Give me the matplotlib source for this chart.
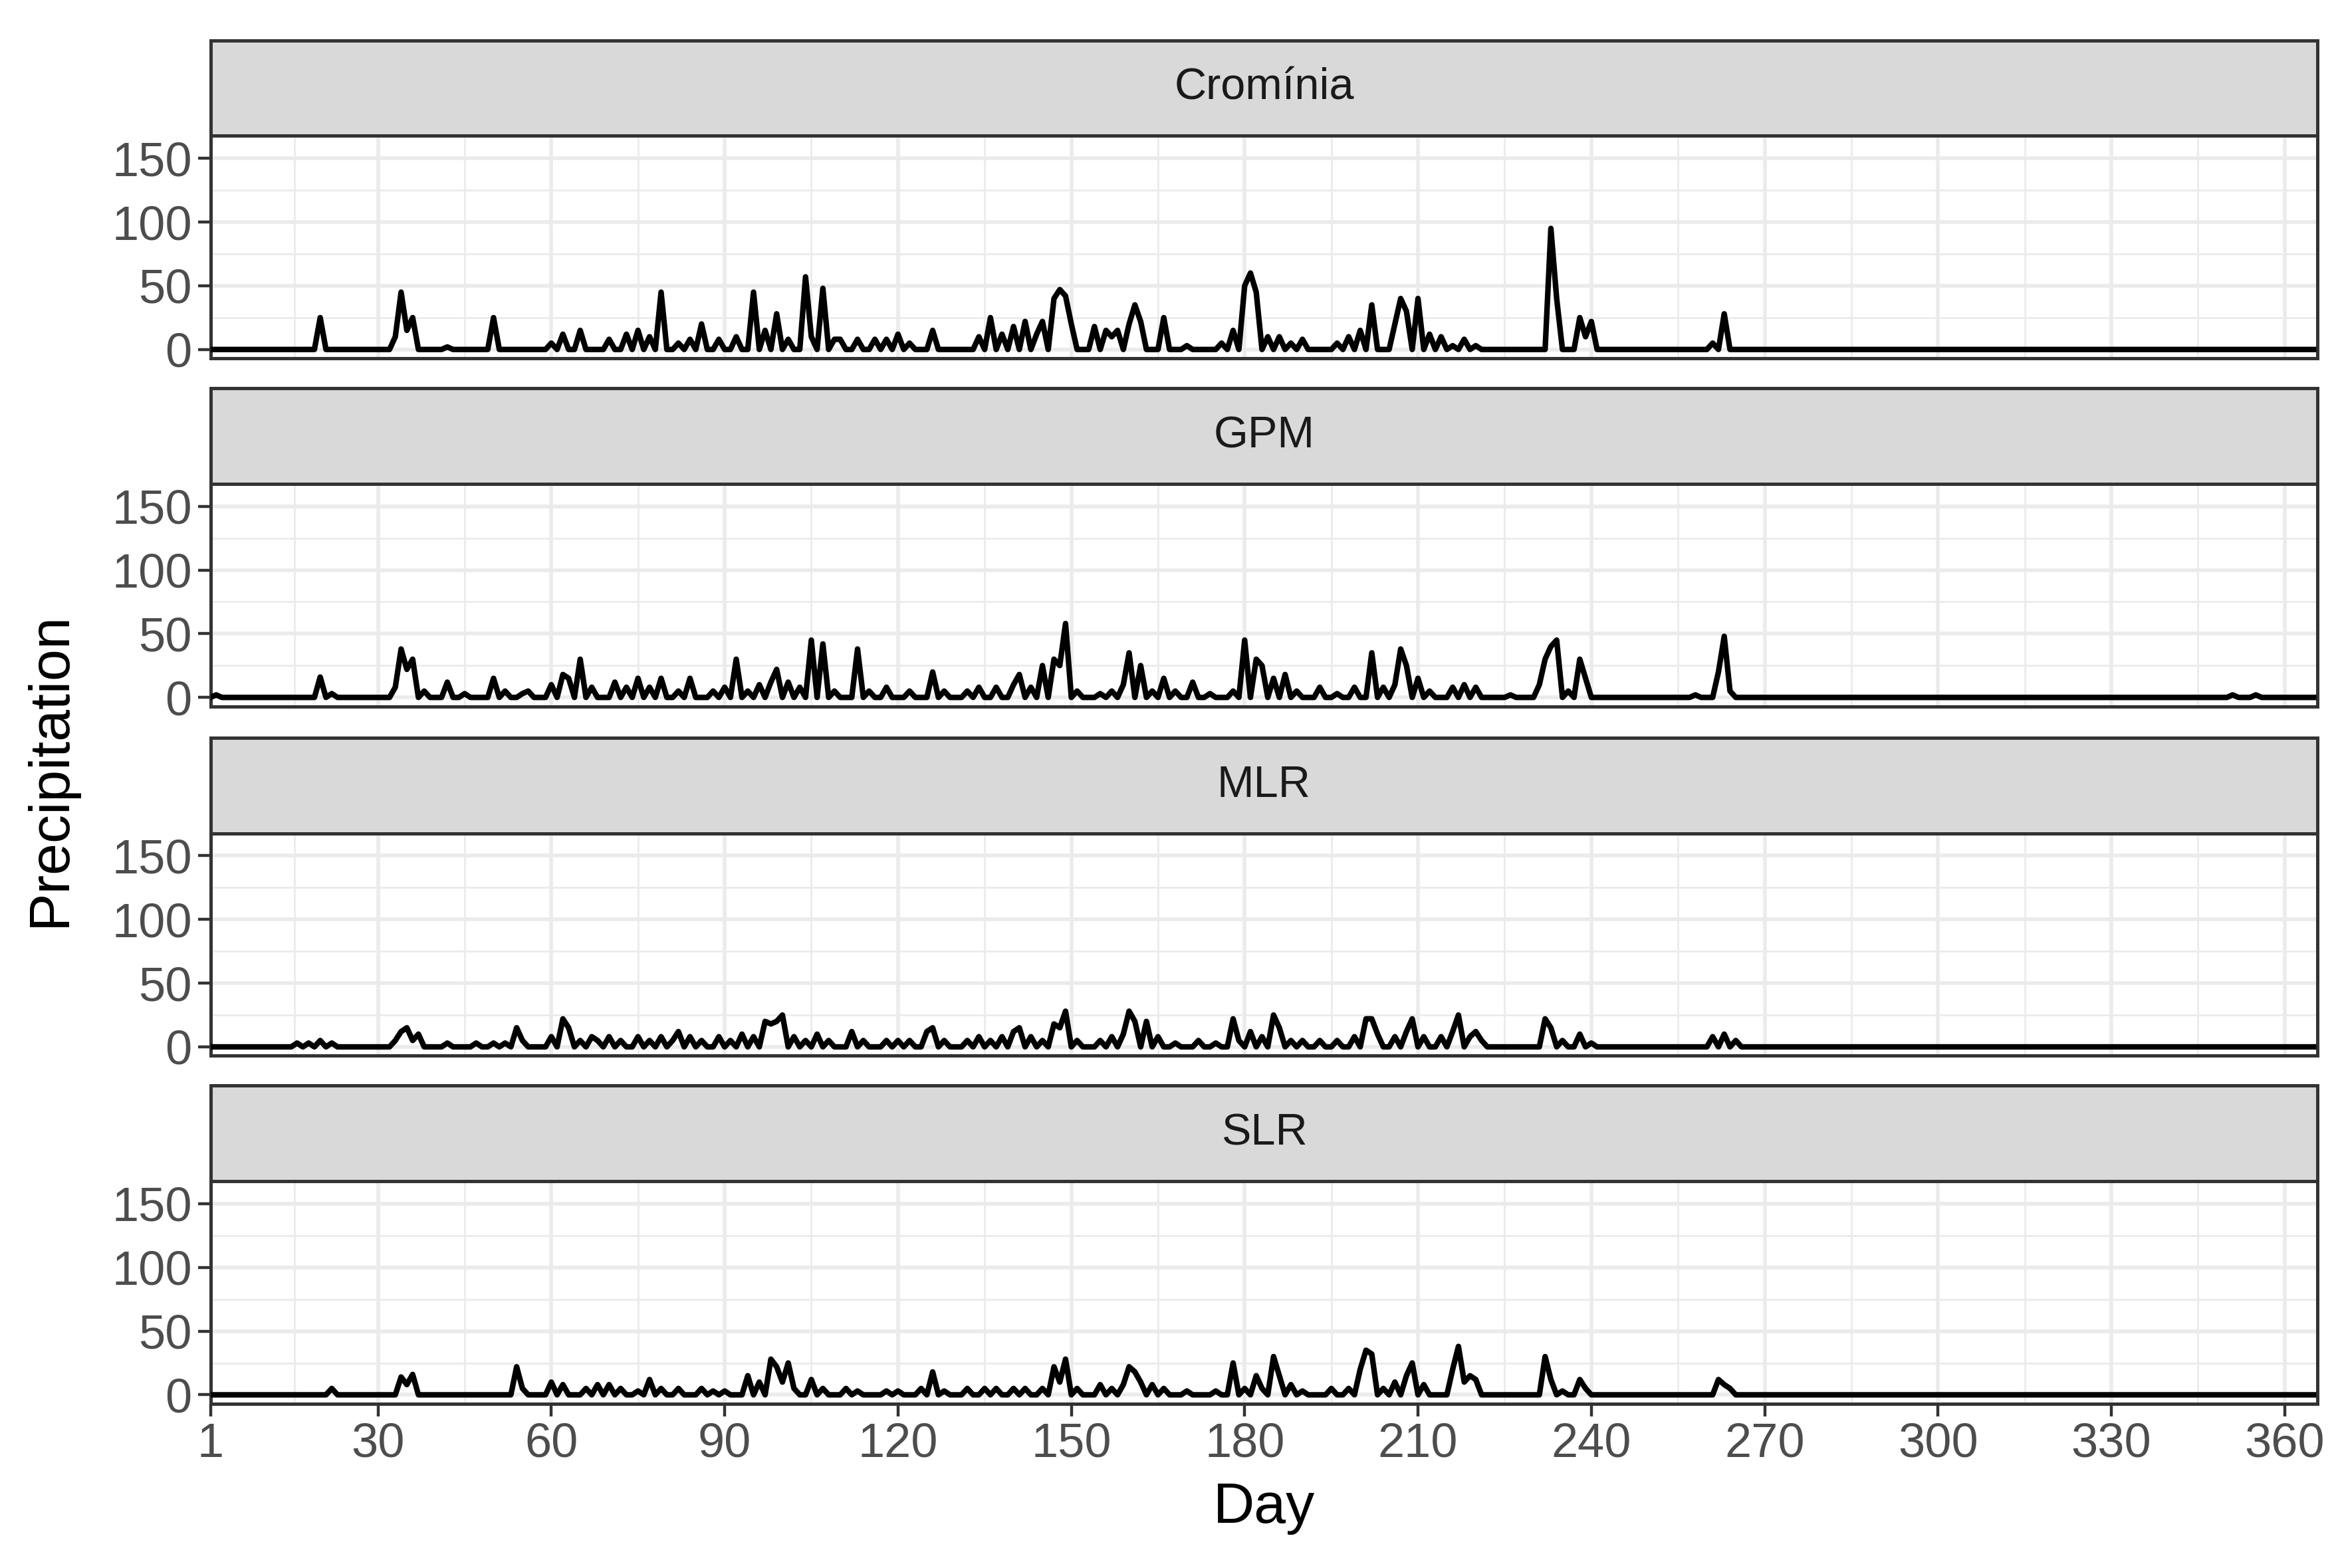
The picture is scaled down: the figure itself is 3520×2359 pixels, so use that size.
import numpy as np
import matplotlib
matplotlib.use("Agg")
import matplotlib.pyplot as plt

crom_days = [20,33,34,35,36,42,50,60,62,65,70,73,75,77,79,82,84,86,89,92,95,97,99,101,104,105,107,109,110,113,116,118,120,122,126,134,136,138,140,142,144,145,147,148,149,150,154,156,157,158,160,161,162,166,170,176,178,180,181,182,184,186,188,190,196,198,200,202,206,207,208,210,212,214,216,218,220,233,234,238,239,240,261,263]
crom_vals = [25,10,45,15,25,2,25,5,12,15,8,12,15,10,45,5,8,20,8,10,45,15,28,8,57,10,48,8,8,8,8,8,12,5,15,10,25,12,18,22,12,22,40,47,42,20,18,15,10,15,20,35,22,25,3,5,15,50,60,45,10,10,5,8,5,10,15,35,20,40,30,40,12,10,3,8,3,95,40,25,10,22,5,28]

gpm_days = [2,20,22,33,34,35,36,38,42,45,50,52,55,56,60,62,63,65,67,71,73,75,77,79,82,84,88,90,92,94,96,98,99,101,103,105,107,109,113,115,118,122,126,128,132,134,137,140,141,143,145,147,148,149,151,155,157,159,160,162,164,166,168,171,174,178,180,182,183,185,187,189,193,196,199,202,204,206,207,208,210,212,216,218,220,226,231,232,233,234,236,238,239,258,262,263,264,351,355]
gpm_vals = [2,16,3,8,38,22,30,5,12,3,15,5,3,5,10,18,15,30,8,12,8,15,8,15,5,15,5,8,30,5,10,12,22,12,8,45,42,5,38,5,8,5,20,5,5,8,8,10,18,8,25,30,25,58,5,3,5,10,35,25,5,15,5,12,3,5,45,30,25,15,18,5,8,3,8,35,8,10,38,25,15,5,8,10,8,2,10,30,40,45,5,30,15,2,20,48,5,2,2]

mlr_days = [16,18,20,22,33,34,35,36,37,42,47,50,52,54,55,60,62,63,65,67,68,70,72,75,77,79,81,82,84,86,89,91,93,95,97,98,99,100,102,104,106,108,112,114,118,120,122,125,126,128,132,134,136,138,140,141,143,145,147,148,149,151,155,157,159,160,161,163,165,168,172,175,178,179,181,183,185,186,188,190,193,196,199,201,202,203,206,208,209,211,214,216,217,219,220,221,232,233,235,238,240,261,263,265]
mlr_vals = [3,3,5,3,5,12,15,5,10,3,3,3,3,15,5,8,22,15,5,8,5,8,5,8,5,8,5,12,8,5,8,5,10,8,20,18,20,25,8,5,10,5,12,5,5,5,5,12,15,5,5,8,5,8,12,15,8,5,18,15,28,5,5,8,10,28,20,20,8,3,5,3,22,5,12,8,25,15,5,5,5,5,8,22,22,10,8,12,22,8,8,12,25,8,12,5,22,15,5,10,3,8,10,5]

slr_days = [22,34,35,36,54,55,60,62,66,68,70,72,75,77,79,82,86,88,90,94,96,98,99,100,101,102,105,107,111,113,118,120,124,126,128,132,135,137,140,142,145,147,148,149,151,155,157,159,160,161,162,164,166,170,175,178,180,182,183,185,186,188,190,195,198,200,201,202,204,206,208,209,211,216,217,218,219,220,232,233,235,238,239,262,263,264]
slr_vals = [5,14,8,16,22,5,10,8,5,8,8,5,3,12,5,5,5,3,3,15,10,28,22,10,25,5,12,5,5,3,3,3,5,18,3,5,5,5,5,5,5,22,10,28,5,8,5,8,22,18,10,8,5,3,3,25,5,15,5,30,15,8,3,5,5,20,35,32,5,10,15,25,8,20,38,10,15,12,30,12,3,12,5,12,8,5]

panels = ["Cromínia", "GPM", "MLR", "SLR"]
series = [(crom_days, crom_vals), (gpm_days, gpm_vals), (mlr_days, mlr_vals), (slr_days, slr_vals)]
all_days = np.arange(1, 366)
x_breaks = [1, 30, 60, 90, 120, 150, 180, 210, 240, 270, 300, 330, 360]
y_breaks = [0, 50, 100, 150]

plt.rcParams['font.family'] = ['Arial', 'Liberation Sans', 'DejaVu Sans']
fig = plt.figure(figsize=(17.6, 11.795), dpi=200)
W, H = 1568, 1050
left, right = 141 / W, 1553 / W
tops = [27, 260, 494, 727]
strip_h, plot_h = 64, 149
for i, (name, (d, v)) in enumerate(zip(panels, series)):
    st = tops[i]
    y = np.zeros(365)
    y[np.array(d) - 1] = v
    ax = fig.add_axes([left, 1 - (st + strip_h + plot_h) / H, right - left, plot_h / H])
    sax = fig.add_axes([left, 1 - (st + strip_h) / H, right - left, strip_h / H])
    sax.set_facecolor('#D9D9D9')
    sax.set_xticks([]); sax.set_yticks([])
    for s in sax.spines.values():
        s.set_color('#333333'); s.set_linewidth(1.8)
    sax.text(0.5, 0.5, name, ha='center', va='center', fontsize=24, color='#1A1A1A', transform=sax.transAxes)
    ax.plot(all_days, y, color='black', lw=3.0, zorder=3)
    ax.set_xlim(1, 365.7)
    ax.set_ylim(-7, 167.6)
    ax.set_yticks(y_breaks)
    ax.set_yticks([25, 75, 125], minor=True)
    ax.set_xticks(x_breaks)
    ax.set_xticks([(a + b) / 2 for a, b in zip(x_breaks[:-1], x_breaks[1:])], minor=True)
    ax.grid(which='major', color='#EBEBEB', lw=2.0)
    ax.grid(which='minor', color='#EBEBEB', lw=1.0)
    ax.set_axisbelow(True)
    for s in ax.spines.values():
        s.set_color('#333333'); s.set_linewidth(1.8)
    ax.tick_params(which='major', length=7, width=1.6, color='#333333', labelsize=26, labelcolor='#4D4D4D', pad=3)
    ax.tick_params(which='minor', length=0)
    if i < 3:
        ax.tick_params(axis='x', labelbottom=False, length=0)
    else:
        ax.set_xlabel('Day', fontsize=31, labelpad=8)

fig.text(34 / W, 1 - 515 / H, 'Precipitation', rotation=90, ha='center', va='center', fontsize=31)
fig.savefig('out.png', dpi=200)
